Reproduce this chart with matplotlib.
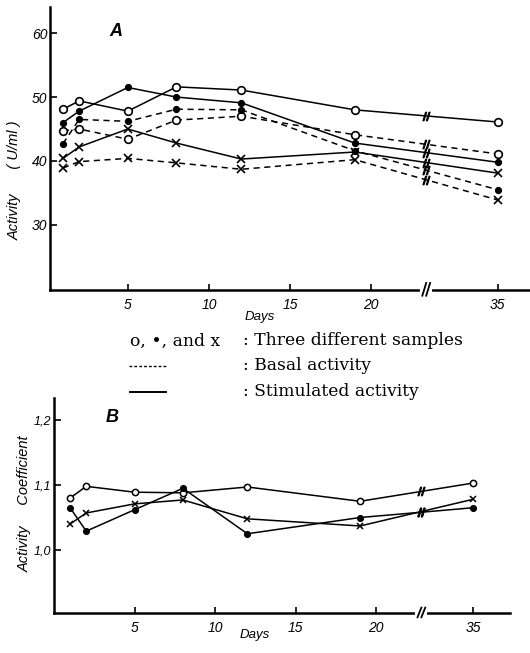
import numpy as np
import matplotlib
matplotlib.use("Agg")
import matplotlib.pyplot as plt

# ---- data ----
days = [1, 2, 5, 8, 12, 19, 35]
tick_days = [5, 10, 15, 20, 35]

# Panel A: activity (U/ml)
a_open_stim = [48.1, 49.4, 47.8, 51.6, 51.1, 48.0, 46.1]
a_fill_stim = [46.0, 47.8, 51.5, 50.0, 49.1, 42.8, 39.8]
a_x_stim = [40.4, 42.2, 45.0, 42.8, 40.3, 41.4, 38.1]
a_open_basal = [44.7, 45.0, 43.4, 46.4, 47.0, 44.1, 41.1]
a_fill_basal = [42.7, 46.5, 46.2, 48.1, 48.0, 41.6, 35.5]
a_x_basal = [38.9, 39.9, 40.4, 39.7, 38.7, 40.2, 33.9]

# Panel B: activity coefficient
b_open = [1.080, 1.098, 1.089, 1.088, 1.097, 1.075, 1.103]
b_fill = [1.065, 1.029, 1.062, 1.095, 1.025, 1.050, 1.065]
b_x = [1.040, 1.057, 1.071, 1.077, 1.048, 1.037, 1.078]

A_LABELS = ["30", "40", "50", "60"]
B_LABELS = ["1,0", "1,1", "1,2"]

W, H = 530, 653
fig = plt.figure(figsize=(W / 100, H / 100), dpi=100)
fig.patch.set_facecolor("white")

sans = "Liberation Sans"
serif = "DejaVu Serif"


def px_axes(left, top, right, bottom):
    return fig.add_axes([left / W, 1 - bottom / H, (right - left) / W, (bottom - top) / H])


def to_pos(d, pos35):
    # day 35 sits just after the axis break
    return [pos35 if v == 35 else v for v in d]


def style_axes(ax, brk):
    for s in ("top", "right"):
        ax.spines[s].set_visible(False)
    for s in ("left", "bottom"):
        ax.spines[s].set_linewidth(1.8)
    ax.tick_params(axis="y", direction="in", length=5, width=1.2, pad=2)
    ax.tick_params(axis="x", direction="in", length=4, width=1.2, pad=6)
    for lab in ax.get_xticklabels() + ax.get_yticklabels():
        lab.set_family(sans)
        lab.set_style("italic")
        lab.set_fontsize(10)
    # break in the x axis
    tr = ax.get_xaxis_transform()
    ax.plot([brk - 0.25, brk + 0.25], [0, 0], color="white", lw=3, transform=tr, clip_on=False, zorder=5)
    for dx in (-0.12, 0.12):
        ax.plot([brk + dx - 0.12, brk + dx + 0.12], [-0.02, 0.025], color="k", lw=1.3,
                transform=tr, clip_on=False, zorder=6)


def break_marks(ax, xs, ys, brk):
    yb = np.interp(brk, xs[-2:], ys[-2:])
    ax.plot([brk], [yb], marker="$//$", ms=6, color="k", zorder=4)


# ---------------- Panel A ----------------
axA = px_axes(50, 7, 530, 290)
posA = to_pos(days, 27.8)
brkA = 23.4
dash = (0, (4, 3))
series_a = [
    (a_open_stim, "-", "o", 5.5, "white"),
    (a_fill_stim, "-", "o", 4, "black"),
    (a_x_stim, "-", "x", 5.5, "black"),
    (a_open_basal, dash, "o", 5.5, "white"),
    (a_fill_basal, dash, "o", 4, "black"),
    (a_x_basal, dash, "x", 5.5, "black"),
]
for ys, ls, mk, ms, mfc in series_a:
    axA.plot(posA, ys, linestyle=ls, color="black", lw=1.1, marker=mk, ms=ms,
             mfc=mfc, mec="black", mew=1.2)
    break_marks(axA, posA, ys, brkA)

axA.set_xlim(0.2, 29.8)
axA.set_ylim(19.8, 64.1)
axA.set_yticks([30, 40, 50, 60])
axA.set_yticklabels(A_LABELS)
axA.set_xticks(to_pos(tick_days, 27.8))
axA.set_xticklabels([str(d) for d in tick_days])
style_axes(axA, brkA)
fig.text(116 / W, 1 - 31 / H, "A", fontsize=13, fontweight="bold", style="italic",
         family=sans, ha="center", va="center")
fig.text(15 / W, 1 - 180 / H, "Activity      ( U/ml )", rotation=90, family=sans,
         style="italic", fontsize=10.5, ha="center", va="center")
fig.text(260 / W, 1 - 317 / H, "Days", family=sans, style="italic", fontsize=9.5,
         ha="center", va="center")

# ---------------- legend text ----------------
fig.text(130 / W, 1 - 341 / H, "o, \u2022, and x", family=serif, fontsize=12.3, va="center")
for ty, txt in ((340, ": Three different samples"), (366, ": Basal activity"),
                (392, ": Stimulated activity")):
    fig.text(243 / W, 1 - ty / H, txt, family=serif, fontsize=12.3, va="center")
fig.add_artist(plt.Line2D([129 / W, 167 / W], [1 - 366 / H, 1 - 366 / H], color="k",
                          lw=1.0, linestyle=(0, (2, 1.5))))
fig.add_artist(plt.Line2D([130 / W, 166 / W], [1 - 392 / H, 1 - 392 / H], color="k", lw=1.4))

# ---------------- Panel B ----------------
axB = px_axes(54, 398, 510, 613)
posB = to_pos(days, 26.0)
brkB = 22.8
series_b = [
    (b_open, "o", 4.5, "white"),
    (b_fill, "o", 4, "black"),
    (b_x, "x", 5, "black"),
]
for ys, mk, ms, mfc in series_b:
    axB.plot(posB, ys, "-", color="black", lw=1.1, marker=mk, ms=ms,
             mfc=mfc, mec="black", mew=1.1)
    break_marks(axB, posB, ys, brkB)

axB.set_xlim(0, 28.3)
axB.set_ylim(0.903, 1.234)
axB.set_yticks([1.0, 1.1, 1.2])
axB.set_yticklabels(B_LABELS)
axB.set_xticks(to_pos(tick_days, 26.0))
axB.set_xticklabels([str(d) for d in tick_days])
style_axes(axB, brkB)
for lab in axB.get_yticklabels():
    lab.set_fontsize(9)
fig.text(112 / W, 1 - 418 / H, "B", fontsize=13, fontweight="bold", style="italic",
         family=sans, ha="center", va="center")
fig.text(25 / W, 1 - 504 / H, "Activity     Coefficient", rotation=90, family=sans,
         style="italic", fontsize=10.5, ha="center", va="center")
fig.text(255 / W, 1 - 635 / H, "Days", family=sans, style="italic", fontsize=9.5,
         ha="center", va="center")

fig.savefig("out.png", dpi=100, facecolor="white")
